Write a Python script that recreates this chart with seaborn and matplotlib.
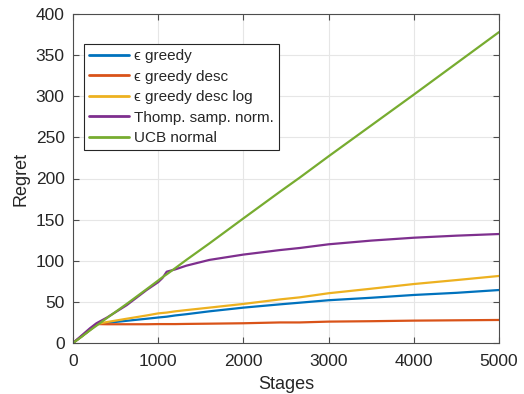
import numpy as np
import pandas as pd
import matplotlib
matplotlib.use("Agg")
import matplotlib.pyplot as plt
import seaborn as sns

# ---- data ----
stages = [0, 100, 200, 275, 400, 630, 865, 1000, 1050, 1100, 1200, 1330, 1600, 2000, 2430, 2660, 3000, 3500, 4000, 4500, 5000]
eps_greedy =      [0, 8, 16, 23, 24.5, 27, 29.5, 31, 31.5, 32, 33.5, 35, 38.5, 43, 47, 49, 52, 55, 58.4, 61, 64.4]
eps_greedy_desc = [0, 8, 16, 23, 22.8, 22.8, 22.8, 23, 23, 23, 23, 23.2, 23.5, 24, 25, 25, 26, 26.5, 27.2, 27.6, 28]
eps_greedy_log =  [0, 8, 16, 23, 25.5, 29.5, 33.5, 36, 36.5, 37, 38.5, 40, 43, 47.5, 53, 55.5, 60.5, 66, 71.7, 76.5, 81.5]
thomp =           [0, 9, 18, 24, 31, 46, 64.5, 74, 79, 86.7, 89.5, 94, 101, 107.5, 113, 115.5, 120, 124.5, 128, 130.5, 132.5]
ucb =             [0, 7.5, 15.5, 21, 30.5, 47.5, 65.5, 76, 80, 83.5, 91, 101, 121, 151.5, 184, 201, 227, 264.5, 302, 340, 378]

labels = ['ϵ greedy', 'ϵ greedy desc', 'ϵ greedy desc log',
          'Thomp. samp. norm.', 'UCB normal']
series = [eps_greedy, eps_greedy_desc, eps_greedy_log, thomp, ucb]
colors = ['#0072BD', '#D95319', '#EDB120', '#7E2F8E', '#77AC30']

frames = []
for lab, vals in zip(labels, series):
    frames.append(pd.DataFrame({'Stages': stages, 'Regret': vals, 'method': lab}))
df = pd.concat(frames, ignore_index=True)

sns.set_theme(style='white')
plt.rcParams['font.family'] = ['Liberation Sans', 'DejaVu Sans']

fig = plt.figure(figsize=(5.24, 3.94), dpi=100)
ax = fig.add_axes([73/524, 1 - 343/394, 426/524, 329/394])

sns.lineplot(data=df, x='Stages', y='Regret', hue='method', hue_order=labels,
             palette=colors, linewidth=1.6, ax=ax, legend=True)

ax.set_xlim(0, 5000)
ax.set_ylim(0, 400)
ax.set_xticks(range(0, 5001, 1000))
ax.set_yticks(range(0, 401, 50))
ax.grid(True, color='#e6e6e6', linewidth=0.8)
ax.set_axisbelow(True)
for s in ax.spines.values():
    s.set_visible(True)
    s.set_color('#4d4d4d')
    s.set_linewidth(0.8)
ax.tick_params(direction='in', length=4, width=0.8, colors='#4d4d4d',
               top=True, right=True, bottom=True, left=True, labelsize=12.5,
               labelcolor='#262626')
ax.tick_params(axis='x', pad=8)
ax.tick_params(axis='y', pad=6)
ax.set_xlabel('Stages', fontsize=13, color='#262626', labelpad=5)
ax.set_ylabel('Regret', fontsize=13, color='#262626', labelpad=4)

handles, labs = ax.get_legend_handles_labels()
leg = ax.legend(handles, labs, loc='upper left', bbox_to_anchor=(0.026, 0.909),
                borderaxespad=0, frameon=True, fancybox=False, framealpha=1,
                edgecolor='#262626', fontsize=11, handlelength=2.6,
                handletextpad=0.3, labelspacing=0.42, borderpad=0.35)
leg.get_frame().set_linewidth(0.8)
for line in leg.get_lines():
    line.set_linewidth(2)

fig.savefig('out.png', dpi=100)
